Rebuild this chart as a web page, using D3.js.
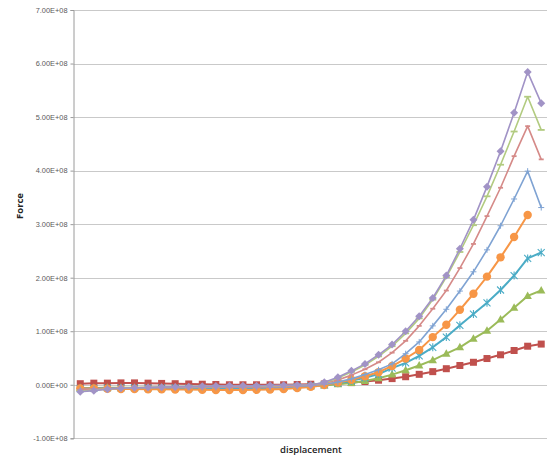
<!DOCTYPE html>
<html>
<head>
<meta charset="utf-8">
<script src="https://cdn.jsdelivr.net/npm/d3@7"></script>
<style>
  html, body { margin: 0; padding: 0; background: #fff; }
  svg { display: block; }
</style>
</head>
<body>
<svg id="chart" width="547" height="456"></svg>
<script>
// Displacement steps (category axis, no tick labels shown)
const steps = [1,2,3,4,5,6,7,8,9,10,11,12,13,14,15,16,17,18,19,20,21,22,23,24,25,26,27,28,29,30,31,32,33,34,35];

// Force values per series, in units of 1e6
const redSquare = [2,3,3,3.5,3.5,3,2.5,2,1.5,1,0.5,0,0,0,0,0,0.5,1,1.5,2.5,4,6,8.5,11.5,15,19.5,24.5,30,36,42,49,56,64,72,76];
const greenTriangle = [-6,-6,-5.5,-5.5,-5.5,-5.5,-5.5,-6,-6,-6,-6,-6,-6,-6,-5.5,-5,-4,-3,-1.5,1,3.5,7,12,19,27,36,46,58,70,86,101,122,144,166,176];
const tealStar = [-7,-6.5,-6,-6,-6,-6,-6,-6,-6.5,-6.5,-6.5,-6.5,-6.5,-6,-5.5,-5,-4,-2,0,3,7.5,13,20,31,41,54,70,89,111,132,153,177,204,236,247];
const orangeCircle = [-7,-7,-7.5,-8,-8,-8.5,-8.5,-9,-9,-9.5,-10,-10,-10,-9.5,-9,-8,-6,-4,-0.5,4,9.5,16,23.5,35,49,65,89,112,140,170,202,238,276,317];
const lightBlue = [-9,-8,-7,-6.5,-6,-5.5,-5,-5,-5,-5,-5,-5,-5,-5,-4.5,-4,-3,-1.5,1,5,11,19,28,39,58,80,110,141,175,211,252,297,347,399,331];
const lightRed = [-9,-8,-7,-6,-5.5,-5,-4.5,-4.5,-4,-4,-4,-4,-4,-4,-3.5,-3,-2,-0.5,3,9,18,29,42,60,82,110,142,176,218,263,315,368,427,483,421];
const lightGreen = [-12,-10,-8,-6.5,-5.5,-5,-4.5,-4,-3.5,-3,-3,-2.5,-2.5,-2.5,-2,-1.5,-1,0,3.5,12.5,24,37,53,72,96,124,159,201,248,298,352,411,473,538,476];
const lightPurple = [-13,-11,-8.5,-6.5,-5.5,-5,-4.5,-4,-3.5,-3,-2.5,-2,-2,-2,-1.5,-1,-0.5,-0.5,4.5,14,26,39,56,75,100,128,162,204,254,308,370,436,508,584,526];

// Value axis ticks (1e6 units) and axis titles
const yTicks = [-100,0,100,200,300,400,500,600,700];
const yTitle = "Force";
const xTitle = "displacement";

const series = [
  { values: redSquare,     color: "#C0504D", width: 2,   marker: "square" },
  { values: greenTriangle, color: "#9BBB59", width: 2,   marker: "triangle" },
  { values: tealStar,      color: "#4BACC6", width: 2,   marker: "star" },
  { values: orangeCircle,  color: "#F79646", width: 2,   marker: "circle" },
  { values: lightBlue,     color: "#7FA3D3", width: 1.6, marker: "plus" },
  { values: lightRed,      color: "#D58A88", width: 1.6, marker: "dashSmall" },
  { values: lightGreen,    color: "#B2CB80", width: 1.6, marker: "dash" },
  { values: lightPurple,   color: "#A193C6", width: 1.6, marker: "diamond" }
];

const svg = d3.select("#chart");
const plot = { left: 73.5, right: 548, top: 10, bottom: 438.3 };

const x = d3.scalePoint().domain(steps).range([plot.left, plot.right]).padding(0.5);
const y = d3.scaleLinear().domain([-100, 700]).range([plot.bottom, plot.top]);

// Format 1e6-unit ticks as e.g. 7.00E+08
function sciLabel(v) {
  const n = v * 1e6;
  if (n === 0) return "0.00E+00";
  const exp = Math.floor(Math.log10(Math.abs(n)));
  const mant = n / Math.pow(10, exp);
  const e = String(Math.abs(exp)).padStart(2, "0");
  return mant.toFixed(2) + "E" + (exp < 0 ? "-" : "+") + e;
}

// Horizontal gridlines
svg.append("g")
  .selectAll("line")
  .data(yTicks)
  .join("line")
  .attr("x1", plot.left).attr("x2", plot.right)
  .attr("y1", d => Math.round(y(d)) + 0.5).attr("y2", d => Math.round(y(d)) + 0.5)
  .attr("stroke", "#c9c9c9").attr("stroke-width", 1);

// Value axis
const yAxis = d3.axisLeft(y).tickValues(yTicks).tickSize(3).tickPadding(3).tickFormat(sciLabel);
const gy = svg.append("g").attr("transform", `translate(${plot.left},0)`).call(yAxis);
gy.select(".domain").attr("stroke", "#9a9a9a");
gy.selectAll(".tick line").attr("stroke", "#9a9a9a");
gy.selectAll(".tick text")
  .attr("font-family", "'Liberation Sans', Arial, sans-serif")
  .attr("font-size", 7.4)
  .attr("fill", "#5a5a5a");

// Axis titles
svg.append("text")
  .attr("transform", `translate(23,206) rotate(-90)`)
  .attr("text-anchor", "middle")
  .attr("font-family", "'Open Sans', sans-serif")
  .attr("font-weight", "bold")
  .attr("font-size", 9.5)
  .attr("fill", "#222")
  .text(yTitle);

svg.append("text")
  .attr("x", 311).attr("y", 453)
  .attr("text-anchor", "middle")
  .attr("font-family", "'Open Sans', sans-serif")
  .attr("font-weight", "600")
  .attr("font-size", 9.5)
  .attr("fill", "#222")
  .text(xTitle);

// Series lines and markers
const line = d3.line().x((d, i) => x(steps[i])).y(d => y(d));

function drawMarker(g, s) {
  const pts = s.values.map((v, i) => [x(steps[i]), y(v)]);
  const c = s.color;
  const sel = g.selectAll(null).data(pts);
  switch (s.marker) {
    case "square":
      sel.join("rect").attr("x", d => d[0] - 3.5).attr("y", d => d[1] - 3.5)
        .attr("width", 7).attr("height", 7).attr("fill", c);
      break;
    case "triangle":
      sel.join("path").attr("d", d => `M${d[0]},${d[1]-4.5}L${d[0]+4.2},${d[1]+3}L${d[0]-4.2},${d[1]+3}Z`)
        .attr("fill", c);
      break;
    case "circle":
      sel.join("circle").attr("cx", d => d[0]).attr("cy", d => d[1]).attr("r", 4.2).attr("fill", c);
      break;
    case "star":
      sel.join("path").attr("d", d =>
        `M${d[0]-3.5},${d[1]-3.5}L${d[0]+3.5},${d[1]+3.5}M${d[0]-3.5},${d[1]+3.5}L${d[0]+3.5},${d[1]-3.5}M${d[0]},${d[1]-4}L${d[0]},${d[1]+4}`)
        .attr("stroke", c).attr("stroke-width", 1.1).attr("fill", "none");
      break;
    case "plus":
      sel.join("path").attr("d", d =>
        `M${d[0]-3},${d[1]}L${d[0]+3},${d[1]}M${d[0]},${d[1]-3}L${d[0]},${d[1]+3}`)
        .attr("stroke", c).attr("stroke-width", 1).attr("fill", "none");
      break;
    case "dashSmall":
      sel.join("path").attr("d", d => `M${d[0]-2.5},${d[1]}L${d[0]+2.5},${d[1]}`)
        .attr("stroke", c).attr("stroke-width", 1.8).attr("fill", "none");
      break;
    case "dash":
      sel.join("path").attr("d", d => `M${d[0]-3.5},${d[1]}L${d[0]+3.5},${d[1]}`)
        .attr("stroke", c).attr("stroke-width", 1.8).attr("fill", "none");
      break;
    case "diamond":
      sel.join("path").attr("d", d => `M${d[0]},${d[1]-4}L${d[0]+4},${d[1]}L${d[0]},${d[1]+4}L${d[0]-4},${d[1]}Z`)
        .attr("fill", c);
      break;
  }
}

series.forEach(s => {
  const g = svg.append("g");
  g.append("path")
    .datum(s.values)
    .attr("d", line)
    .attr("fill", "none")
    .attr("stroke", s.color)
    .attr("stroke-width", s.width)
    .attr("stroke-linejoin", "round");
  drawMarker(g, s);
});
</script>
</body>
</html>
